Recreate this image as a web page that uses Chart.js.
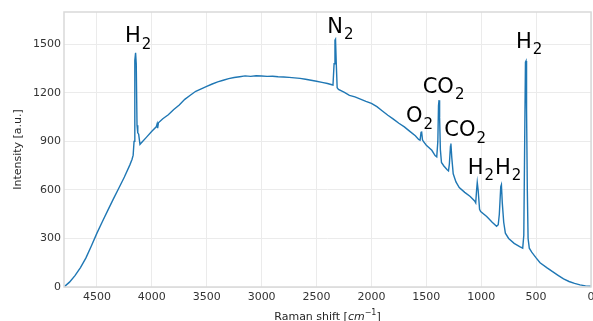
<!DOCTYPE html>
<html>
<head>
<meta charset="utf-8">
<script src="https://cdn.jsdelivr.net/npm/chart.js@4.4.0/dist/chart.umd.min.js"></script>
<style>
  html, body { margin: 0; padding: 0; background: #fff; }
  #wrap { width: 593px; height: 321px; }
</style>
</head>
<body>
<div id="wrap"><canvas id="myChart" width="593" height="321"></canvas></div>
<script>
// spectrum
var ramanShift = [
  4800, 4750, 4700, 4650, 4600, 4550, 4500, 4450, 4400, 4350,
  4300, 4250, 4200, 4180, 4170, 4162, 4155, 4148, 4142, 4135,
  4128, 4120, 4108, 4050, 4000, 3960, 3952, 3947, 3940, 3900,
  3850, 3800, 3750, 3700, 3650, 3600, 3550, 3500, 3450, 3400,
  3350, 3300, 3250, 3200, 3150, 3100, 3050, 3000, 2950, 2900,
  2850, 2800, 2750, 2700, 2650, 2600, 2550, 2500, 2450, 2400,
  2360, 2350, 2340, 2332, 2327, 2320, 2312, 2300, 2250, 2200,
  2150, 2100, 2050, 2000, 1950, 1900, 1850, 1800, 1750, 1700,
  1650, 1600, 1570, 1557, 1548, 1543, 1535, 1525, 1500, 1450,
  1420, 1405, 1395, 1389, 1384, 1379, 1372, 1362, 1340, 1310,
  1298, 1290, 1280, 1276, 1268, 1255, 1230, 1200, 1150, 1100,
  1060, 1050, 1042, 1036, 1028, 1015, 1005, 950, 900, 860,
  845, 835, 822, 816, 808, 795, 780, 750, 700, 650,
  622, 612, 604, 597, 592, 587, 580, 573, 562, 540,
  500, 464, 400, 350, 300, 282, 250, 200, 150, 100,
  50, 0
];
var intensity = [
  0, 30, 70, 120, 180, 255, 333, 405, 475, 545,
  612, 680, 755, 790, 815, 900, 1400, 1448, 1380, 1000,
  953, 945, 882, 925, 963, 990, 1008, 982, 1015, 1040,
  1065, 1097, 1125, 1160, 1185, 1210, 1225, 1240, 1255, 1268,
  1278, 1288, 1295, 1300, 1305, 1302, 1306, 1304, 1302, 1303,
  1300, 1298, 1296, 1293, 1290, 1284, 1278, 1272, 1265, 1258,
  1250, 1248, 1380, 1525, 1531, 1380, 1232, 1222, 1205, 1185,
  1175, 1162, 1148, 1135, 1115, 1088, 1062, 1038, 1012, 990,
  962, 935, 912, 908, 955, 962, 910, 898, 876, 845,
  812, 804, 900, 1120, 1155, 1050, 850, 770, 748, 725,
  718, 760, 870, 887, 800, 700, 650, 615, 585, 560,
  532, 520, 600, 647, 600, 480, 467, 436, 400, 375,
  385, 450, 620, 632, 520, 400, 333, 300, 270, 250,
  240, 320, 900, 1390, 1397, 1100, 600, 300, 240, 215,
  180, 150, 118, 95, 72, 64, 50, 34, 22, 13,
  7, 5
];

var xTicks = [4500, 4000, 3500, 3000, 2500, 2000, 1500, 1000, 500, 0];
var yTicks = [0, 300, 600, 900, 1200, 1500];

// peak labels: species, subscript, where the text starts (shift, intensity)
var gasNames = ['H', 'N', 'O', 'CO', 'CO', 'H', 'H', 'H'];
var gasSubs = ['2', '2', '2', '2', '2', '2', '2', '2'];
var gasLabelShift = [4244, 2402, 1685, 1533, 1336, 1123, 874, 683];
var gasLabelIntensity = [1513, 1573, 1019, 1200, 932, 700, 700, 1480];

var points = ramanShift.map(function (x, i) { return { x: x, y: intensity[i] }; });

var FONT = "'DejaVu Sans', sans-serif";

var extras = {
  id: 'extras',
  afterDraw: function (chart) {
    var ctx = chart.ctx;
    var a = chart.chartArea;
    var xs = chart.scales.x, ys = chart.scales.y;
    ctx.save();
    // frame
    ctx.strokeStyle = '#d9d9d9';
    ctx.lineWidth = 1.5;
    ctx.strokeRect(a.left, a.top, a.right - a.left, a.bottom - a.top);

    // peak labels
    ctx.fillStyle = '#000';
    ctx.textAlign = 'left';
    ctx.textBaseline = 'alphabetic';
    for (var i = 0; i < gasNames.length; i++) {
      var px = xs.getPixelForValue(gasLabelShift[i]);
      var py = ys.getPixelForValue(gasLabelIntensity[i]);
      ctx.font = '21px ' + FONT;
      ctx.fillText(gasNames[i], px, py);
      var w = ctx.measureText(gasNames[i]).width;
      ctx.font = '15px ' + FONT;
      ctx.fillText(gasSubs[i], px + w + 1, py + 6.5);
    }

    // axis titles
    ctx.fillStyle = '#262626';
    ctx.font = '11px ' + FONT;
    ctx.save();
    ctx.translate(21, (a.top + a.bottom) / 2);
    ctx.rotate(-Math.PI / 2);
    ctx.textAlign = 'center';
    ctx.fillText('Intensity [a.u.]', 0, 0);
    ctx.restore();

    var t1 = 'Raman shift [', t2 = 'cm', t3 = '\u22121', t4 = ']';
    ctx.font = '11px ' + FONT;
    var w1 = ctx.measureText(t1).width, w4 = ctx.measureText(t4).width;
    ctx.font = 'italic 11px ' + FONT;
    var w2 = ctx.measureText(t2).width;
    ctx.font = '8px ' + FONT;
    var w3 = ctx.measureText(t3).width;
    var x0 = (a.left + a.right) / 2 - (w1 + w2 + w3 + w4) / 2;
    var by = 320;
    ctx.textAlign = 'left';
    ctx.font = '11px ' + FONT;
    ctx.fillText(t1, x0, by);
    ctx.font = 'italic 11px ' + FONT;
    ctx.fillText(t2, x0 + w1, by);
    ctx.font = '8px ' + FONT;
    ctx.fillText(t3, x0 + w1 + w2, by - 5);
    ctx.font = '11px ' + FONT;
    ctx.fillText(t4, x0 + w1 + w2 + w3, by);
    ctx.restore();
  }
};

var ctx = document.getElementById('myChart').getContext('2d');
var myChart = new Chart(ctx, {
  type: 'scatter',
  data: {
    datasets: [{
      data: points,
      showLine: true,
      borderColor: '#1f77b4',
      borderWidth: 1.4,
      pointRadius: 0,
      tension: 0
    }]
  },
  options: {
    responsive: false,
    animation: false,
    layout: { padding: { left: 0, right: 2, top: 12, bottom: 0 } },
    plugins: { legend: { display: false }, tooltip: { enabled: false } },
    scales: {
      x: {
        type: 'linear',
        reverse: true,
        min: 0,
        max: 4800,
        afterBuildTicks: function (s) { s.ticks = xTicks.map(function (v) { return { value: v }; }); },
        afterFit: function (s) { s.height = 34; s.paddingLeft = 0; s.paddingRight = 0; },
        grid: { color: '#ebebeb', lineWidth: 1, drawTicks: false },
        border: { display: false },
        ticks: {
          color: '#333', font: { family: FONT, size: 11 }, padding: 4, maxRotation: 0,
          callback: function (v) { return String(v); }
        }
      },
      y: {
        min: 0,
        max: 1700,
        afterBuildTicks: function (s) { s.ticks = yTicks.map(function (v) { return { value: v }; }); },
        afterFit: function (s) { s.width = 64; },
        grid: { color: '#ebebeb', lineWidth: 1, drawTicks: false },
        border: { display: false },
        ticks: {
          color: '#333', font: { family: FONT, size: 11 }, padding: 3,
          callback: function (v) { return String(v); }
        }
      }
    }
  },
  plugins: [extras]
});
</script>
</body>
</html>
